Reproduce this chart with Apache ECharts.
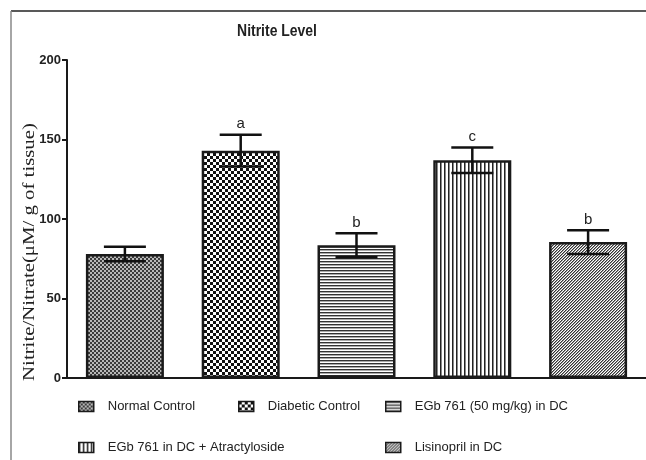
<!DOCTYPE html>
<html><head><meta charset="utf-8">
<script src="https://cdn.jsdelivr.net/npm/echarts@6/dist/echarts.min.js"></script>
<style>html,body{margin:0;padding:0;background:#fff}#c{width:646px;height:460px}</style>
</head><body><div id="c"></div>
<script>
const categories = ['Normal Control', 'Diabetic Control', 'EGb 761 (50 mg/kg) in DC', 'EGb 761 in DC + Atractyloside', 'Lisinopril in DC'];
const means = [78, 143, 83.5, 137, 85.5];
const errors = [4.5, 10, 7.5, 8, 7.5];
const letters = ['', 'a', 'b', 'c', 'b'];
const yTicks = [0, 50, 100, 150, 200];

function pat(w, h, draw) {
  const c = document.createElement('canvas');
  c.width = w; c.height = h;
  const g = c.getContext('2d');
  g.fillStyle = '#fff'; g.fillRect(0, 0, w, h);
  draw(g);
  return { image: c, repeat: 'repeat' };
}
const patterns = [
  pat(4, 4, g => { g.fillStyle = '#3a3a3a'; g.fillRect(0,0,2,2); g.fillRect(2,2,2,2); g.fillStyle = '#b8b8b8'; g.fillRect(2,0,2,2); g.fillRect(0,2,2,2); }),
  pat(6, 6, g => { g.fillStyle = '#111'; g.fillRect(0,0,3,3); g.fillRect(3,3,3,3); }),
  pat(1, 3, g => { g.fillStyle = '#333'; g.fillRect(0,0,1,1); g.fillStyle = '#aaa'; g.fillRect(0,1,1,1); }),
  pat(4, 1, g => { g.fillStyle = '#222'; g.fillRect(0,0,1,1); g.fillStyle = '#888'; g.fillRect(1,0,1,1); }),
  pat(3, 3, g => { g.fillStyle = '#333'; g.fillRect(2,0,1,1); g.fillRect(1,1,1,1); g.fillRect(0,2,1,1); g.fillStyle = '#999'; g.fillRect(0,0,1,1); g.fillRect(2,1,1,1); g.fillRect(1,2,1,1); })
];

const barSeries = categories.map((name, i) => ({
  name: name,
  type: 'bar',
  barWidth: 78,
  barGap: '-100%',
  data: means.map((v, j) => j === i ? v : '-'),
  itemStyle: { color: patterns[i], borderColor: '#1a1a1a', borderWidth: 2.5 },
  emphasis: { disabled: true },
  z: 2
}));

const errData = means.map((m, i) => [i, m - errors[i], m + errors[i], letters[i]]);
const errSeries = {
  type: 'custom',
  data: errData,
  z: 5,
  renderItem: function (params, api) {
    const x = api.value(0);
    const lo = api.coord([x, api.value(1)]);
    const hi = api.coord([x, api.value(2)]);
    const hw = 21;
    const st = { stroke: '#111', lineWidth: 2.5 };
    const ch = [
      { type: 'line', shape: { x1: hi[0], y1: hi[1], x2: lo[0], y2: lo[1] }, style: st },
      { type: 'line', shape: { x1: hi[0] - hw, y1: hi[1], x2: hi[0] + hw, y2: hi[1] }, style: st },
      { type: 'line', shape: { x1: lo[0] - hw, y1: lo[1], x2: lo[0] + hw, y2: lo[1] }, style: st }
    ];
    const t = letters[params.dataIndex];
    if (t) ch.push({ type: 'text', x: hi[0], y: hi[1] - 3, style: { text: t, fill: '#222', font: '15px "Liberation Sans", Arial', align: 'center', verticalAlign: 'bottom' } });
    return { type: 'group', children: ch };
  }
};

function leg(name, left, top) {
  return {
    data: [name], left: left, top: top, padding: 0, itemWidth: 15, itemHeight: 10,
    icon: 'rect', selectedMode: false,
    itemStyle: { borderColor: '#1a1a1a', borderWidth: 1.5 },
    textStyle: { fontFamily: '"Liberation Sans", Arial', fontSize: 13, color: '#222', padding: [0, 0, 0, 9] }
  };
}

const chart = echarts.init(document.getElementById('c'), null, { renderer: 'canvas' });
chart.setOption({
  animation: false,
  grid: { left: 67, right: 0, top: 60, bottom: 82 },
  legend: [
    leg(categories[0], 78, 400),
    leg(categories[1], 238, 400),
    leg(categories[2], 385, 400),
    leg(categories[3], 78, 441),
    leg(categories[4], 385, 441)
  ],
  xAxis: {
    type: 'category', data: categories,
    axisLine: { lineStyle: { color: '#1a1a1a', width: 2 } },
    axisTick: { show: false }, axisLabel: { show: false }
  },
  yAxis: {
    type: 'value', min: 0, max: 200, interval: 50,
    splitLine: { show: false },
    axisLine: { show: true, lineStyle: { color: '#1a1a1a', width: 2 } },
    axisTick: { show: true, length: 5, lineStyle: { color: '#1a1a1a', width: 2 } },
    axisLabel: { margin: 6, fontFamily: '"Liberation Sans", Arial', fontWeight: 'bold', fontSize: 13, color: '#222',
      formatter: v => yTicks.indexOf(v) >= 0 ? String(v) : '' }
  },
  graphic: [
    { type: 'line', shape: { x1: 11, y1: 11, x2: 646, y2: 11 }, style: { stroke: '#222', lineWidth: 1.5 } },
    { type: 'line', shape: { x1: 11, y1: 11, x2: 11, y2: 460 }, style: { stroke: '#888', lineWidth: 1.5 } },
    { type: 'text', x: 277, y: 31, scaleX: 0.82,
      style: { text: 'Nitrite Level', font: 'bold 17px "Liberation Sans", Arial', fill: '#222', align: 'center', verticalAlign: 'middle' } },
    { type: 'text', x: 29.5, y: 252, rotation: Math.PI / 2, scaleX: 1.3,
      style: { text: 'Nitrite/Nitrate(μM/ g of tissue)', font: '16px "Liberation Serif", "Times New Roman", serif', fill: '#222', align: 'center', verticalAlign: 'middle' } }
  ],
  series: barSeries.concat([errSeries])
});
</script></body></html>
